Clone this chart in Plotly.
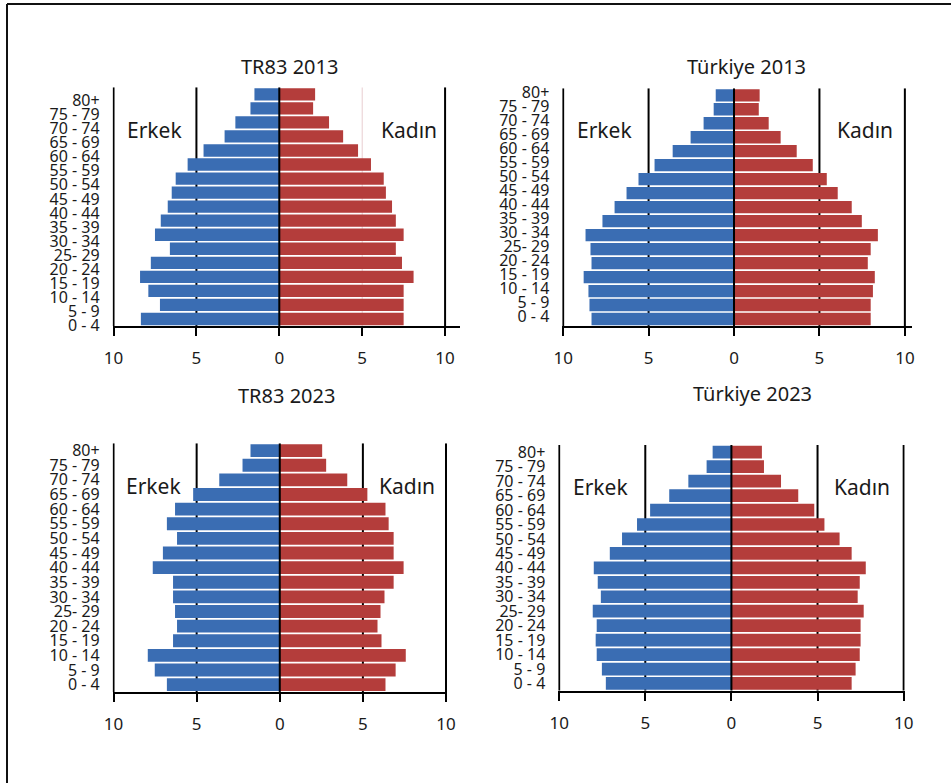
import plotly.graph_objects as go

# ---------------- data ----------------
age_groups = ["0 - 4", "5 - 9", "10 - 14", "15 - 19", "20 - 24", "25- 29", "30 - 34",
              "35 - 39", "40 - 44", "45 - 49", "50 - 54", "55 - 59", "60 - 64",
              "65 - 69", "70 - 74", "75 - 79", "80+"]

panel_titles = ["TR83 2013", "Türkiye 2013", "TR83 2023", "Türkiye 2023"]

# values listed from "0 - 4" up to "80+" (percent of population)
tr83_2013_male = [8.35, 7.2, 7.9, 8.4, 7.75, 6.6, 7.5, 7.15, 6.73, 6.49, 6.25, 5.53, 4.57, 3.3, 2.65, 1.74, 1.5]
tr83_2013_female = [7.5, 7.5, 7.5, 8.1, 7.4, 7.03, 7.5, 7.03, 6.8, 6.43, 6.3, 5.53, 4.75, 3.85, 3.0, 2.04, 2.16]

tr_2013_male = [8.34, 8.46, 8.52, 8.8, 8.34, 8.4, 8.69, 7.7, 6.99, 6.29, 5.59, 4.65, 3.59, 2.54, 1.78, 1.19, 1.07]
tr_2013_female = [8.0, 8.0, 8.13, 8.24, 7.83, 8.0, 8.42, 7.48, 6.89, 6.07, 5.43, 4.61, 3.67, 2.73, 2.03, 1.45, 1.5]

tr83_2023_male = [6.79, 7.52, 7.94, 6.42, 6.18, 6.3, 6.42, 6.42, 7.64, 7.03, 6.18, 6.79, 6.3, 5.21, 3.64, 2.24, 1.76]
tr83_2023_female = [6.36, 6.97, 7.58, 6.12, 5.88, 6.06, 6.3, 6.85, 7.45, 6.85, 6.85, 6.55, 6.36, 5.27, 4.06, 2.79, 2.55]

tr_2023_male = [7.29, 7.52, 7.82, 7.88, 7.82, 8.05, 7.58, 7.76, 7.99, 7.06, 6.35, 5.48, 4.72, 3.61, 2.5, 1.44, 1.09]
tr_2023_female = [6.98, 7.21, 7.45, 7.5, 7.5, 7.68, 7.33, 7.45, 7.8, 6.98, 6.28, 5.4, 4.81, 3.88, 2.88, 1.89, 1.77]

x_tick_values = [-10, -5, 0, 5, 10]
x_tick_labels = ["10", "5", "0", "5", "10"]
grid_values = [-10, -5, 5, 10]

male_label = "Erkek"
female_label = "Kadın"

# ---------------- style / layout ----------------
W, H = 951, 783
BLUE = "#3a6db3"
RED = "#b43d3b"
TXT = "#1a1a1a"
FONT = "Noto Sans"

panels = [
    dict(m=tr83_2013_male, f=tr83_2013_female, px=(112.7, 460.0), py=(87.3, 326.0), xmax=10.9,
         lab_off=-0.45, title_xy=(289, 67), erk=(-7.5, 13.45), kad=(7.8, 13.45), pale5=True),
    dict(m=tr_2013_male, f=tr_2013_female, px=(562.3, 911.7), py=(88.3, 326.0), xmax=10.4,
         lab_off=0.2, title_xy=(746, 67), erk=(-7.6, 13.5), kad=(7.65, 13.5), pale5=False),
    dict(m=tr83_2023_male, f=tr83_2023_female, px=(112.7, 447.0), py=(443.3, 692.0), xmax=10.06,
         lab_off=0.0, title_xy=(286, 395), erk=(-7.6, 13.6), kad=(7.68, 13.6), pale5=False),
    dict(m=tr_2023_male, f=tr_2023_female, px=(558.3, 904.7), py=(445.0, 690.7), xmax=10.06,
         lab_off=0.0, title_xy=(752, 394), erk=(-7.6, 13.6), kad=(7.6, 13.6), pale5=False),
]

fig = go.Figure()
layout = dict(
    width=W, height=H, autosize=False, margin=dict(l=0, r=0, t=0, b=0, pad=0),
    paper_bgcolor="white", plot_bgcolor="white",
    showlegend=False, barmode="overlay", bargap=0.12,
    font=dict(family=FONT, color=TXT),
)
shapes = []
annotations = []
idx = list(range(len(age_groups)))

for k, p in enumerate(panels, start=1):
    xa = "x" if k == 1 else f"x{k}"
    ya = "y" if k == 1 else f"y{k}"
    fig.add_trace(go.Bar(y=idx, x=[-v for v in p["m"]], orientation="h",
                         marker=dict(color=BLUE, line=dict(width=0)),
                         xaxis=xa, yaxis=ya, name=male_label))
    fig.add_trace(go.Bar(y=idx, x=p["f"], orientation="h",
                         marker=dict(color=RED, line=dict(width=0)),
                         xaxis=xa, yaxis=ya, name=female_label))
    xkey = "xaxis" if k == 1 else f"xaxis{k}"
    ykey = "yaxis" if k == 1 else f"yaxis{k}"
    layout[xkey] = dict(
        domain=[p["px"][0] / W, p["px"][1] / W], anchor=ya,
        range=[-10.05, p["xmax"]], tickvals=x_tick_values, ticktext=x_tick_labels,
        showline=True, linecolor="black", linewidth=2,
        ticks="outside", ticklen=8, tickwidth=2, tickcolor="black",
        showgrid=False, zeroline=False, ticklabelstandoff=8, automargin=False,
        tickfont=dict(size=17, color=TXT, family=FONT), fixedrange=True,
    )
    layout[ykey] = dict(
        domain=[1 - p["py"][1] / H, 1 - p["py"][0] / H], anchor=xa,
        range=[-0.5, len(age_groups) - 0.5],
        tickvals=[i + p["lab_off"] for i in idx], ticktext=age_groups,
        showline=False, showgrid=False, zeroline=False, ticks="",
        ticklabelstandoff=12, automargin=False,
        tickfont=dict(size=16, color=TXT, family=FONT), fixedrange=True,
    )
    for g in grid_values:
        col = "#e8cdd0" if (p["pale5"] and g == 5) else "black"
        w = 1 if (p["pale5"] and g == 5) else 2
        shapes.append(dict(type="line", xref=xa, yref=ya, x0=g, x1=g,
                           y0=-0.5, y1=len(age_groups) - 0.5,
                           line=dict(color=col, width=w), layer="below"))
    shapes.append(dict(type="line", xref=xa, yref=ya, x0=0, x1=0,
                       y0=-0.5, y1=len(age_groups) - 0.5,
                       line=dict(color="black", width=2), layer="above"))
    annotations.append(dict(text=panel_titles[k - 1], xref="paper", yref="paper",
                            x=p["title_xy"][0] / W, y=1 - p["title_xy"][1] / H,
                            xanchor="center", yanchor="middle", showarrow=False,
                            font=dict(size=20, color=TXT, family=FONT)))
    annotations.append(dict(text=male_label, xref=xa, yref=ya,
                            x=p["erk"][0], y=p["erk"][1], xanchor="center", yanchor="middle",
                            showarrow=False, font=dict(size=21, color=TXT, family=FONT)))
    annotations.append(dict(text=female_label, xref=xa, yref=ya,
                            x=p["kad"][0], y=p["kad"][1], xanchor="center", yanchor="middle",
                            showarrow=False, font=dict(size=21, color=TXT, family=FONT)))

# outer frame (left and top edges visible, others run off the page)
shapes.append(dict(type="line", xref="paper", yref="paper",
                   x0=7 / W, x1=7 / W, y0=0, y1=1 - 4 / H,
                   line=dict(color="#111111", width=2), layer="above"))
shapes.append(dict(type="line", xref="paper", yref="paper",
                   x0=7 / W, x1=1, y0=1 - 4 / H, y1=1 - 4 / H,
                   line=dict(color="#111111", width=2), layer="above"))

layout["shapes"] = shapes
layout["annotations"] = annotations
fig.update_layout(**layout)
fig.write_html("out.html",
               config={"displayModeBar": False},
               post_script="document.body.style.margin='0';document.body.style.padding='0';"
                           "document.body.style.overflow='hidden';")
